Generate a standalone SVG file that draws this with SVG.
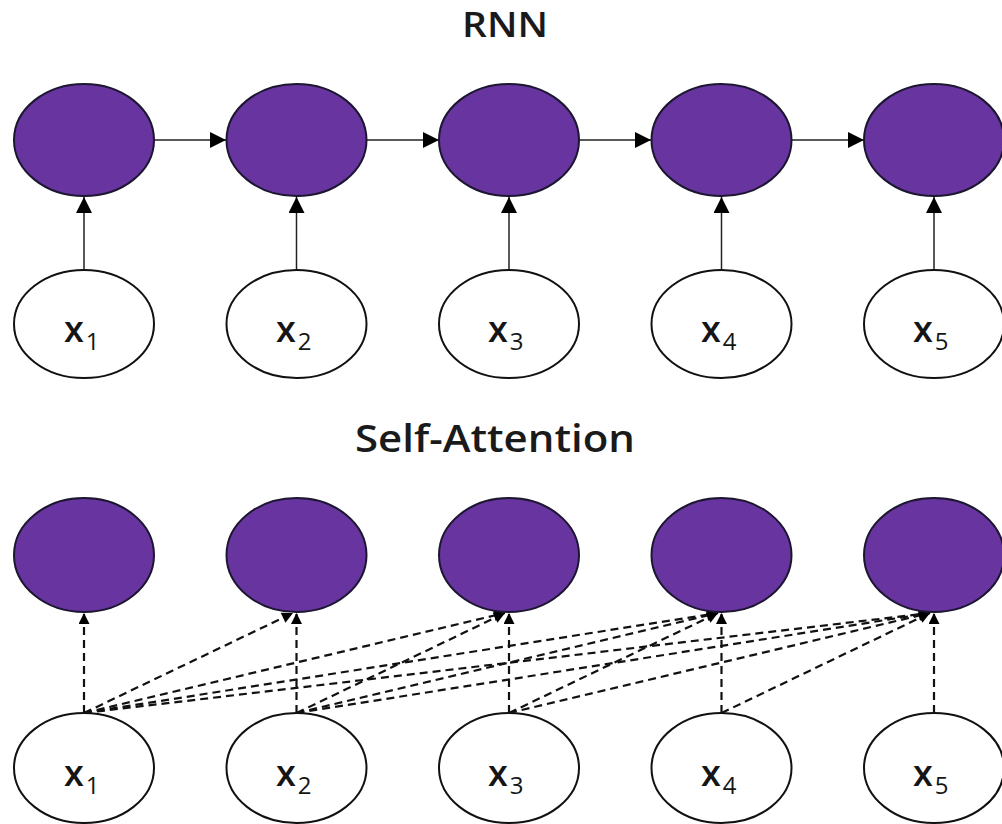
<svg xmlns="http://www.w3.org/2000/svg" width="1002" height="824" viewBox="0 0 1002 824">
  <style>
    .hid { fill: #6834a0; stroke: #1c1630; stroke-width: 2; }
    .inp { fill: #ffffff; stroke: #111111; stroke-width: 2; }
    .title { font-family: "Open Sans", "Noto Sans", sans-serif; font-weight: 600; fill: #1a1a1a; text-anchor: middle; }
    .lbl { font-family: "Open Sans", "Noto Sans", sans-serif; font-weight: 600; font-size: 36px; fill: #151515; }
    .sub { font-size: 24px; font-weight: 500; }
    .solid { stroke: #222222; stroke-width: 1.5; fill: none; marker-end: url(#big); }
    .dash { stroke: #111111; stroke-width: 2.2; fill: none; stroke-dasharray: 8 5; marker-end: url(#small); }
  </style>
  <defs>
    <marker id="big" viewBox="0 0 10 10" refX="10" refY="5" markerWidth="18" markerHeight="16" markerUnits="userSpaceOnUse" orient="auto">
      <path d="M0,0 L10,5 L0,10 Z" fill="#000000"/>
    </marker>
    <marker id="small" viewBox="0 0 10 10" refX="10" refY="5" markerWidth="12" markerHeight="11" markerUnits="userSpaceOnUse" orient="auto">
      <path d="M0,0 L10,5 L0,10 Z" fill="#000000"/>
    </marker>
  </defs>
  <rect width="1002" height="824" fill="#ffffff"/>

  <text class="title" x="505" y="37" font-size="34" textLength="86" lengthAdjust="spacingAndGlyphs">RNN</text>
  <text class="title" x="495" y="452" font-size="37" textLength="280" lengthAdjust="spacingAndGlyphs">Self-Attention</text>

  <!-- RNN connectors -->
  <g id="rnn-connectors">
    <line class="solid" x1="154" y1="140" x2="226" y2="140"/>
    <line class="solid" x1="367" y1="140" x2="439" y2="140"/>
    <line class="solid" x1="579" y1="140" x2="651" y2="140"/>
    <line class="solid" x1="792" y1="140" x2="864" y2="140"/>
    <line class="solid" x1="84" y1="270" x2="84" y2="197"/>
    <line class="solid" x1="296.5" y1="270" x2="296.5" y2="197"/>
    <line class="solid" x1="509" y1="270" x2="509" y2="197"/>
    <line class="solid" x1="721.5" y1="270" x2="721.5" y2="197"/>
    <line class="solid" x1="934" y1="270" x2="934" y2="197"/>
  </g>

  <!-- RNN hidden states -->
  <g id="rnn-h1"><ellipse class="hid" cx="84" cy="140" rx="70" ry="56"/></g>
  <g id="rnn-h2"><ellipse class="hid" cx="296.5" cy="140" rx="70" ry="56"/></g>
  <g id="rnn-h3"><ellipse class="hid" cx="509" cy="140" rx="70" ry="56"/></g>
  <g id="rnn-h4"><ellipse class="hid" cx="721.5" cy="140" rx="70" ry="56"/></g>
  <g id="rnn-h5"><ellipse class="hid" cx="934" cy="140" rx="70" ry="56"/></g>

  <!-- RNN inputs -->
  <g id="rnn-x1"><ellipse class="inp" cx="84" cy="324" rx="70" ry="54"/><text class="lbl" x="64" y="342">x<tspan class="sub" dx="2" dy="8">1</tspan></text></g>
  <g id="rnn-x2"><ellipse class="inp" cx="296.5" cy="324" rx="70" ry="54"/><text class="lbl" x="276" y="342">x<tspan class="sub" dx="2" dy="8">2</tspan></text></g>
  <g id="rnn-x3"><ellipse class="inp" cx="509" cy="324" rx="70" ry="54"/><text class="lbl" x="488" y="342">x<tspan class="sub" dx="2" dy="8">3</tspan></text></g>
  <g id="rnn-x4"><ellipse class="inp" cx="721.5" cy="324" rx="70" ry="54"/><text class="lbl" x="701" y="342">x<tspan class="sub" dx="2" dy="8">4</tspan></text></g>
  <g id="rnn-x5"><ellipse class="inp" cx="934" cy="324" rx="70" ry="54"/><text class="lbl" x="913" y="342">x<tspan class="sub" dx="2" dy="8">5</tspan></text></g>

  <!-- Self-attention connectors: each input attends to its own and later positions -->
  <g id="attn-connectors">
    <line class="dash" x1="84" y1="713" x2="84" y2="613"/>
    <line class="dash" x1="84" y1="713" x2="293" y2="613"/>
    <line class="dash" x1="84" y1="713" x2="505" y2="613"/>
    <line class="dash" x1="84" y1="713" x2="718" y2="613"/>
    <line class="dash" x1="84" y1="713" x2="930" y2="613"/>
    <line class="dash" x1="296.5" y1="713" x2="296.5" y2="613"/>
    <line class="dash" x1="296.5" y1="713" x2="505" y2="613"/>
    <line class="dash" x1="296.5" y1="713" x2="718" y2="613"/>
    <line class="dash" x1="296.5" y1="713" x2="930" y2="613"/>
    <line class="dash" x1="509" y1="713" x2="509" y2="613"/>
    <line class="dash" x1="509" y1="713" x2="718" y2="613"/>
    <line class="dash" x1="509" y1="713" x2="930" y2="613"/>
    <line class="dash" x1="721.5" y1="713" x2="721.5" y2="613"/>
    <line class="dash" x1="721.5" y1="713" x2="930" y2="613"/>
    <line class="dash" x1="934" y1="713" x2="934" y2="613"/>
  </g>

  <!-- Self-attention outputs -->
  <g id="attn-h1"><ellipse class="hid" cx="84" cy="555" rx="70" ry="57"/></g>
  <g id="attn-h2"><ellipse class="hid" cx="296.5" cy="555" rx="70" ry="57"/></g>
  <g id="attn-h3"><ellipse class="hid" cx="509" cy="555" rx="70" ry="57"/></g>
  <g id="attn-h4"><ellipse class="hid" cx="721.5" cy="555" rx="70" ry="57"/></g>
  <g id="attn-h5"><ellipse class="hid" cx="934" cy="555" rx="70" ry="57"/></g>

  <!-- Self-attention inputs -->
  <g id="attn-x1"><ellipse class="inp" cx="84" cy="768" rx="70" ry="55"/><text class="lbl" x="64" y="786">x<tspan class="sub" dx="2" dy="8">1</tspan></text></g>
  <g id="attn-x2"><ellipse class="inp" cx="296.5" cy="768" rx="70" ry="55"/><text class="lbl" x="276" y="786">x<tspan class="sub" dx="2" dy="8">2</tspan></text></g>
  <g id="attn-x3"><ellipse class="inp" cx="509" cy="768" rx="70" ry="55"/><text class="lbl" x="488" y="786">x<tspan class="sub" dx="2" dy="8">3</tspan></text></g>
  <g id="attn-x4"><ellipse class="inp" cx="721.5" cy="768" rx="70" ry="55"/><text class="lbl" x="701" y="786">x<tspan class="sub" dx="2" dy="8">4</tspan></text></g>
  <g id="attn-x5"><ellipse class="inp" cx="934" cy="768" rx="70" ry="55"/><text class="lbl" x="913" y="786">x<tspan class="sub" dx="2" dy="8">5</tspan></text></g>
</svg>
